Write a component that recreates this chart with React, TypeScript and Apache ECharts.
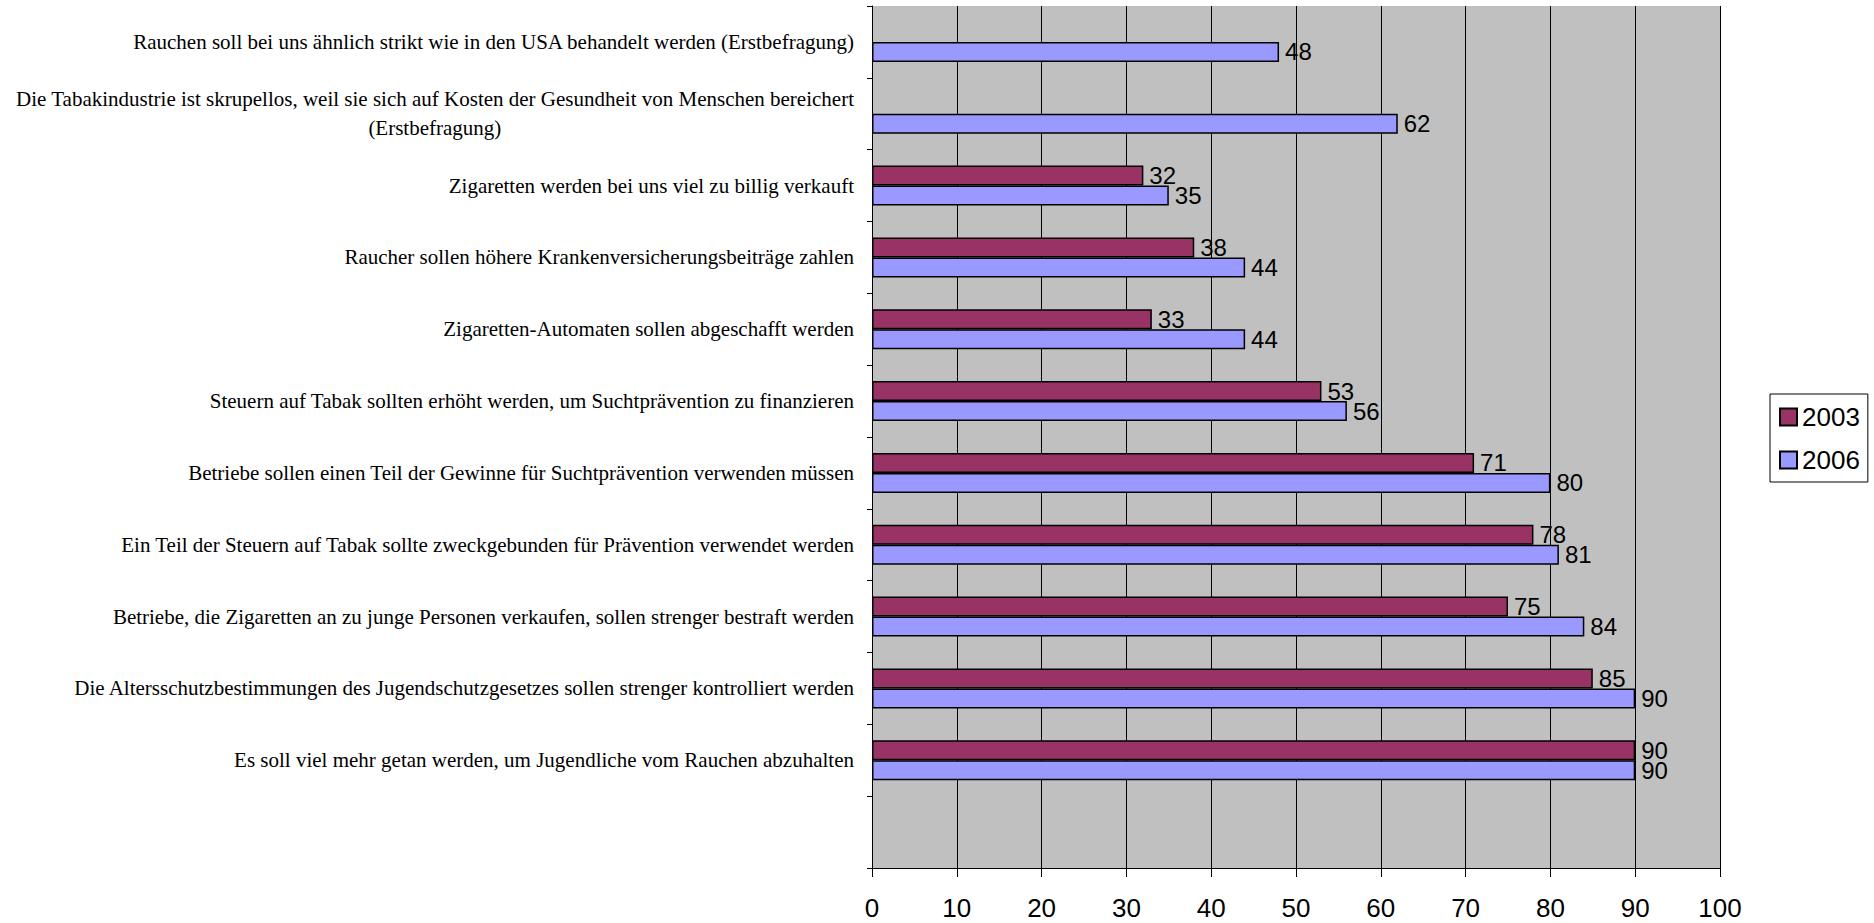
import React, { useEffect, useRef } from "react";
import * as echarts from "echarts";

const categories: string[] = [
  "Rauchen soll bei uns ähnlich strikt wie in den USA behandelt werden (Erstbefragung)",
  "Die Tabakindustrie ist skrupellos, weil sie sich auf Kosten der Gesundheit von Menschen bereichert\n(Erstbefragung)",
  "Zigaretten werden bei uns viel zu billig verkauft",
  "Raucher sollen höhere Krankenversicherungsbeiträge zahlen",
  "Zigaretten-Automaten sollen abgeschafft werden",
  "Steuern auf Tabak sollten erhöht werden, um Suchtprävention zu finanzieren",
  "Betriebe sollen einen Teil der Gewinne für Suchtprävention verwenden müssen",
  "Ein Teil der Steuern auf Tabak sollte zweckgebunden für Prävention verwendet werden",
  "Betriebe, die Zigaretten an zu junge Personen verkaufen, sollen strenger bestraft werden",
  "Die Altersschutzbestimmungen des Jugendschutzgesetzes sollen strenger kontrolliert werden",
  "Es soll viel mehr getan werden, um Jugendliche vom Rauchen abzuhalten",
  "",
];

const values2003: (number | null)[] = [null, null, 32, 38, 33, 53, 71, 78, 75, 85, 90, null];
const values2006: (number | null)[] = [48, 62, 35, 44, 44, 56, 80, 81, 84, 90, 90, null];

const seriesNames: string[] = ["2003", "2006"];
const xTicks = { min: 0, max: 100, interval: 10 };

export default function App() {
  const ref = useRef<HTMLDivElement>(null);
  useEffect(() => {
    document.body.style.margin = "0";
    if (!ref.current) return;
    const chart = echarts.init(ref.current, undefined, { renderer: "svg" });
    const serif = "'Liberation Serif', 'Times New Roman', serif";
    const sans = "'Liberation Sans', Arial, sans-serif";
    chart.setOption({
      animation: false,
      backgroundColor: "#ffffff",
      grid: {
        left: 872,
        right: 154,
        top: 6,
        bottom: 55,
        show: true,
        backgroundColor: "#C0C0C0",
        borderWidth: 0,
      },
      legend: {
        orient: "vertical",
        left: 1770,
        top: 394,
        padding: [10, 8, 9, 9],
        itemWidth: 17,
        itemHeight: 17,
        itemGap: 17,
        icon: "rect",
        borderColor: "#000",
        borderWidth: 1,
        backgroundColor: "#fff",
        textStyle: { fontSize: 26, fontFamily: sans, color: "#000" },
        data: seriesNames,
      },
      xAxis: {
        type: "value",
        min: xTicks.min,
        max: xTicks.max,
        interval: xTicks.interval,
        axisLine: { show: true, lineStyle: { color: "#000", width: 1 } },
        axisTick: { show: true, length: 9, lineStyle: { color: "#000" } },
        splitLine: { show: true, lineStyle: { color: "#000", width: 1 } },
        axisLabel: { fontSize: 26, fontFamily: sans, color: "#000", margin: 27 },
      },
      yAxis: {
        type: "category",
        inverse: true,
        data: categories,
        axisLine: { show: true, lineStyle: { color: "#000", width: 1 } },
        axisTick: { show: true, length: 5, alignWithLabel: false, lineStyle: { color: "#000" } },
        splitLine: { show: false },
        axisLabel: {
          margin: 18,
          interval: 0,
          formatter: (v: string) => {
            if (!v) return "";
            const parts = v.split("\n");
            if (parts.length === 1) return `{a|${parts[0]}}`;
            return `{a|${parts[0]}}\n{c|${parts[1]}}`;
          },
          rich: {
            a: { fontFamily: serif, fontSize: 21, lineHeight: 29, color: "#000" },
            c: { fontFamily: serif, fontSize: 21, lineHeight: 29, color: "#000", align: "center" },
          },
        },
      },
      series: [
        {
          name: seriesNames[0],
          type: "bar",
          data: values2003,
          barWidth: 20,
          barGap: "0%",
          itemStyle: { color: "#993366", borderColor: "#000", borderWidth: 1.5 },
          label: {
            show: true,
            position: "right",
            distance: 6,
            fontSize: 24,
            fontFamily: sans,
            color: "#000",
          },
        },
        {
          name: seriesNames[1],
          type: "bar",
          data: values2006,
          barWidth: 20,
          barGap: "0%",
          itemStyle: { color: "#9999FF", borderColor: "#000", borderWidth: 1.5 },
          label: {
            show: true,
            position: "right",
            distance: 6,
            fontSize: 24,
            fontFamily: sans,
            color: "#000",
          },
        },
      ],
    });
    return () => chart.dispose();
  }, []);
  return <div ref={ref} style={{ width: 1874, height: 923 }} />;
}
